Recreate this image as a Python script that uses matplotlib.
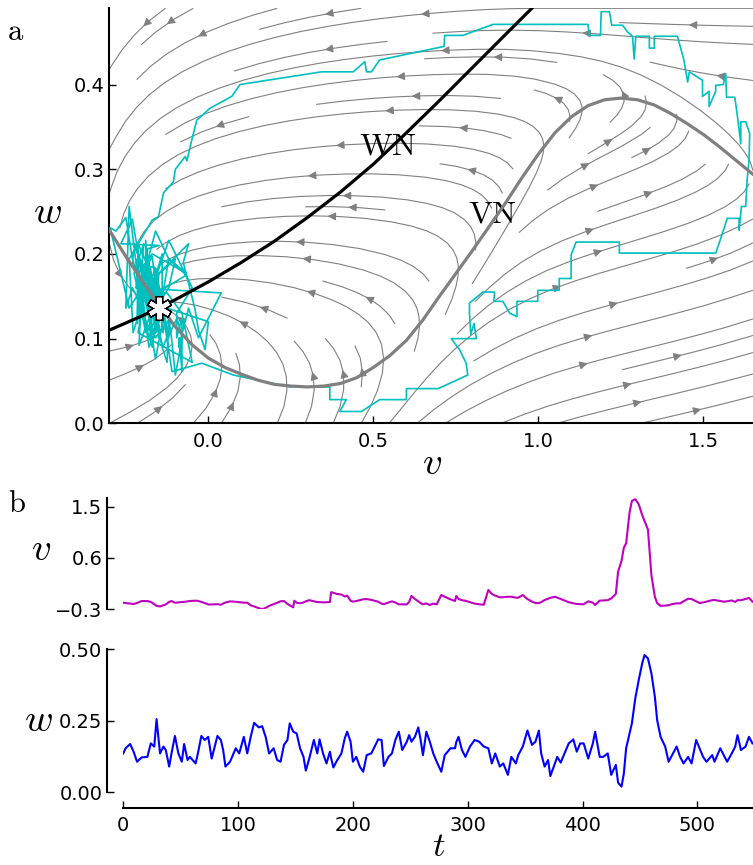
import numpy as np
import matplotlib
matplotlib.use("Agg")
import matplotlib.pyplot as plt

plt.rcParams['mathtext.fontset'] = 'cm'
plt.rcParams['font.family'] = 'DejaVu Sans'

# nullclines
vn_v = [-0.30, -0.25, -0.20, -0.15, -0.10, -0.05, 0.00, 0.05, 0.10, 0.15, 0.20, 0.25, 0.30, 0.35,
        0.40, 0.45, 0.50, 0.55, 0.60, 0.65, 0.70, 0.75, 0.80, 0.85, 0.90, 0.95, 1.00, 1.05, 1.10,
        1.15, 1.20, 1.25, 1.30, 1.35, 1.40, 1.45, 1.50, 1.55, 1.60, 1.65]
vn_w = [0.228, 0.197, 0.168, 0.140, 0.114, 0.093, 0.077, 0.066, 0.058, 0.051, 0.046, 0.044, 0.043, 0.044,
        0.047, 0.054, 0.066, 0.080, 0.098, 0.122, 0.150, 0.177, 0.204, 0.232, 0.260, 0.290, 0.318, 0.343,
        0.362, 0.375, 0.382, 0.384, 0.382, 0.376, 0.366, 0.354, 0.341, 0.326, 0.310, 0.294]
wn_v = [-0.30, -0.20, -0.10, 0.00, 0.10, 0.20, 0.30, 0.40, 0.50, 0.60, 0.70, 0.80, 0.90, 0.98]
wn_w = [0.110, 0.127, 0.146, 0.167, 0.190, 0.215, 0.243, 0.273, 0.306, 0.343, 0.381, 0.420, 0.459, 0.490]

# model constants for the flow field
v_rev = -0.62
eps = 0.136
fp_v, fp_w = -0.151, 0.136

# time series (panel b)
t = [0, 2, 6, 9, 12, 16, 21, 24, 27, 29, 32, 35, 37, 40, 42, 45, 48, 51, 53, 56, 58, 63, 65, 68, 71,
     74, 77, 82, 85, 87, 89, 93, 98, 101, 105, 108, 111, 114, 118, 121, 124, 127, 131, 134, 137, 140,
     143, 145, 148, 149, 151, 154, 157, 159, 162, 166, 169, 171, 174, 177, 180, 181, 183, 186, 190,
     193, 195, 198, 200, 203, 206, 209, 212, 216, 219, 222, 225, 227, 231, 234, 237, 240, 243, 247,
     249, 251, 254, 257, 259, 261, 264, 267, 270, 273, 277, 280, 285, 289, 290, 292, 295, 298, 302,
     306, 310, 314, 318, 321, 324, 328, 331, 335, 338, 342, 344, 348, 352, 356, 359, 362, 364, 367,
     370, 372, 376, 378, 381, 385, 388, 392, 395, 398, 401, 405, 409, 411, 415, 418, 422, 425, 429,
     431, 434, 436, 438, 441, 443, 446, 449, 452, 454, 457, 460, 463, 465, 468, 472, 475, 478, 482,
     485, 488, 492, 495, 499, 502, 505, 508, 513, 515, 520, 523, 526, 530, 533, 535, 538, 542, 545, 548]
v = [-0.184, -0.190, -0.200, -0.207, -0.190, -0.155, -0.155, -0.170, -0.210, -0.240, -0.250, -0.230,
     -0.215, -0.170, -0.155, -0.184, -0.180, -0.172, -0.170, -0.160, -0.155, -0.149, -0.152, -0.170,
     -0.190, -0.215, -0.215, -0.210, -0.220, -0.200, -0.180, -0.161, -0.168, -0.175, -0.184, -0.184,
     -0.230, -0.250, -0.280, -0.298, -0.275, -0.240, -0.210, -0.185, -0.160, -0.155, -0.205, -0.230,
     -0.265, -0.149, -0.184, -0.195, -0.180, -0.160, -0.140, -0.160, -0.172, -0.175, -0.178, -0.176,
     -0.172, 0.000, -0.010, -0.030, -0.041, -0.076, -0.060, -0.150, -0.165, -0.155, -0.140, -0.125,
     -0.120, -0.135, -0.150, -0.166, -0.200, -0.210, -0.180, -0.161, -0.180, -0.213, -0.213, -0.213,
     -0.170, -0.066, -0.120, -0.160, -0.190, -0.213, -0.196, -0.225, -0.200, -0.213, -0.049, -0.080,
     -0.125, -0.155, -0.067, -0.120, -0.140, -0.150, -0.175, -0.200, -0.212, -0.220, 0.039, -0.030,
     -0.060, -0.090, -0.088, -0.080, -0.080, -0.096, -0.096, -0.049, -0.120, -0.165, -0.190, -0.190,
     -0.175, -0.137, -0.115, -0.100, -0.079, -0.095, -0.120, -0.150, -0.175, -0.195, -0.207, -0.210,
     -0.212, -0.160, -0.184, -0.225, -0.148, -0.145, -0.140, -0.110, -0.030, 0.360, 0.550, 0.780,
     0.857, 1.400, 1.600, 1.630, 1.540, 1.350, 1.250, 1.100, 0.300, -0.080, -0.190, -0.240, -0.235,
     -0.228, -0.210, -0.196, -0.196, -0.160, -0.115, -0.120, -0.160, -0.190, -0.180, -0.165, -0.140,
     -0.137, -0.155, -0.166, -0.160, -0.145, -0.170, -0.140, -0.140, -0.120, -0.100, -0.166]
w = [0.136, 0.154, 0.169, 0.142, 0.107, 0.122, 0.124, 0.171, 0.160, 0.256, 0.136, 0.160, 0.148, 0.090,
     0.136, 0.197, 0.136, 0.107, 0.169, 0.113, 0.124, 0.101, 0.136, 0.197, 0.183, 0.194, 0.118, 0.197,
     0.183, 0.148, 0.090, 0.107, 0.154, 0.136, 0.194, 0.136, 0.194, 0.243, 0.227, 0.231, 0.194, 0.136,
     0.154, 0.113, 0.107, 0.166, 0.183, 0.241, 0.212, 0.210, 0.206, 0.154, 0.124, 0.076, 0.118, 0.183,
     0.136, 0.185, 0.136, 0.101, 0.142, 0.120, 0.087, 0.110, 0.136, 0.190, 0.212, 0.177, 0.107, 0.124,
     0.090, 0.072, 0.130, 0.136, 0.160, 0.185, 0.183, 0.092, 0.124, 0.136, 0.183, 0.212, 0.148, 0.177,
     0.200, 0.177, 0.194, 0.227, 0.183, 0.130, 0.212, 0.177, 0.136, 0.107, 0.072, 0.130, 0.154, 0.154,
     0.175, 0.194, 0.148, 0.124, 0.160, 0.183, 0.177, 0.160, 0.154, 0.101, 0.136, 0.090, 0.101, 0.061,
     0.124, 0.101, 0.130, 0.160, 0.216, 0.166, 0.177, 0.216, 0.136, 0.090, 0.113, 0.057, 0.101, 0.124,
     0.104, 0.142, 0.171, 0.185, 0.142, 0.171, 0.171, 0.118, 0.171, 0.212, 0.124, 0.124, 0.136, 0.061,
     0.096, 0.034, 0.020, 0.066, 0.154, 0.206, 0.241, 0.329, 0.393, 0.451, 0.480, 0.468, 0.416, 0.335,
     0.253, 0.194, 0.160, 0.107, 0.130, 0.160, 0.124, 0.101, 0.124, 0.101, 0.183, 0.154, 0.124, 0.107,
     0.130, 0.107, 0.154, 0.130, 0.107, 0.136, 0.160, 0.200, 0.148, 0.160, 0.194, 0.171]

# excursion of the trajectory drawn in panel a
exc_v = [-0.020, 0.076, 0.247, 0.368, 0.368, 0.418, 0.398, 0.464, 0.519, 0.600, 0.600, 0.696, 0.786,
         0.781, 0.761, 0.736, 0.812, 0.805, 0.795, 0.791, 0.791, 0.832, 0.867, 0.865, 0.892, 0.913,
         0.935, 0.935, 0.998, 0.998, 1.063, 1.063, 1.099, 1.099, 1.114, 1.245, 1.245, 1.537, 1.552,
         1.572, 1.608, 1.608, 1.615, 1.628, 1.632, 1.638, 1.640, 1.628, 1.613, 1.613, 1.605, 1.595,
         1.570, 1.567, 1.560, 1.537, 1.537, 1.517, 1.517, 1.497, 1.497, 1.457, 1.452, 1.440, 1.431,
         1.421, 1.351, 1.351, 1.336, 1.336, 1.295, 1.290, 1.285, 1.270, 1.255, 1.222, 1.215, 1.190,
         1.188, 1.154, 1.150, 0.862, 0.771, 0.716, 0.714, 0.519, 0.494, 0.479, 0.474, 0.439, 0.343,
         0.096, 0.071, 0.005, -0.035, -0.050, -0.065, -0.070, -0.100, -0.106, -0.136, -0.151, -0.170]
exc_w = [0.071, 0.057, 0.043, 0.043, 0.028, 0.028, 0.014, 0.014, 0.028, 0.028, 0.041, 0.041, 0.057,
         0.071, 0.087, 0.100, 0.100, 0.118, 0.105, 0.130, 0.142, 0.155, 0.155, 0.144, 0.144, 0.130,
         0.126, 0.144, 0.144, 0.157, 0.157, 0.171, 0.171, 0.199, 0.214, 0.214, 0.201, 0.201, 0.218,
         0.242, 0.242, 0.228, 0.256, 0.256, 0.287, 0.311, 0.342, 0.356, 0.356, 0.330, 0.356, 0.385,
         0.385, 0.413, 0.400, 0.399, 0.392, 0.374, 0.392, 0.386, 0.405, 0.415, 0.403, 0.430, 0.443,
         0.457, 0.457, 0.443, 0.443, 0.457, 0.457, 0.430, 0.457, 0.462, 0.470, 0.470, 0.486, 0.486,
         0.458, 0.458, 0.471, 0.471, 0.458, 0.458, 0.445, 0.429, 0.415, 0.415, 0.427, 0.415, 0.415,
         0.400, 0.386, 0.372, 0.358, 0.335, 0.310, 0.315, 0.300, 0.285, 0.272, 0.244, 0.240]

t_arr, v_arr, w_arr = np.array(t), np.array(v), np.array(w)
pre = t_arr <= 425
post = t_arr >= 468
traj_v = np.concatenate([v_arr[pre], exc_v, v_arr[post]])
traj_w = np.concatenate([w_arr[pre], exc_w, w_arr[post]])

fig = plt.figure(figsize=(7.53, 8.65), dpi=100)

# ---- panel a: phase plane
ax = fig.add_axes([0.1452, 0.5106, 0.8548, 0.4798])
V, W = np.meshgrid(np.linspace(-0.3, 1.65, 150), np.linspace(0, 0.49, 150))
dV = (V - v_rev) * (np.interp(V, vn_v, vn_w) - W)
dW = eps * (np.interp(V, wn_v, wn_w) - W)
ax.streamplot(V, W, dV, dW, density=0.8, color='0.5', linewidth=0.8, arrowsize=1.2)
ax.plot(traj_v, traj_w, color='c', lw=1.2, zorder=3)
ax.plot(vn_v, vn_w, color='gray', lw=2.3, zorder=4)
ax.plot(wn_v, wn_w, color='k', lw=2.3, zorder=4)
# fixed point: white asterisk with black outline
ax.plot(fp_v, fp_w, marker=(6, 2, 0), ms=18, mec='k', mew=5.5, zorder=6)
ax.plot(fp_v, fp_w, marker=(6, 2, 0), ms=15.5, mec='white', mew=3, zorder=7)
ax.text(0.543, 0.327, r'$\mathrm{WN}$', fontsize=23, ha='center', va='center')
ax.text(0.861, 0.247, r'$\mathrm{VN}$', fontsize=23, ha='center', va='center')
ax.set_xlim(-0.3, 1.65)
ax.set_ylim(0, 0.49)
ax.set_xticks([0.0, 0.5, 1.0, 1.5])
ax.set_yticks([0.0, 0.1, 0.2, 0.3, 0.4])
for s in ['top', 'right']:
    ax.spines[s].set_visible(False)
for s in ['left', 'bottom']:
    ax.spines[s].set_linewidth(1.5)
ax.tick_params(direction='in', length=5, width=1, labelsize=14)
ax.tick_params(axis='x', pad=6)

# ---- panel b: time series
axv = fig.add_axes([0.1637, 0.2956, 0.8363, 0.1286])
axv.plot(t, v, color='m', lw=1.5)
axv.set_xlim(0, 548.5)
axv.set_ylim(-0.3, 1.65)
axv.set_yticks([-0.3, 0.6, 1.5])
axv.set_yticklabels(['\u22120.3', '0.6', '1.5'])
axv.set_xticks([])
for s in ['top', 'right', 'bottom']:
    axv.spines[s].set_visible(False)
axv.spines['left'].set_position(('outward', 11.5))
axv.spines['left'].set_linewidth(1.5)
axv.tick_params(direction='in', length=5, width=1, labelsize=14)

axw = fig.add_axes([0.1637, 0.0840, 0.8363, 0.1654])
axw.plot(t, w, color='b', lw=1.5)
axw.set_xlim(0, 548.5)
axw.set_ylim(0, 0.5)
axw.set_yticks([0.0, 0.25, 0.5])
axw.set_yticklabels(['0.00', '0.25', '0.50'])
axw.set_xticks([0, 100, 200, 300, 400, 500])
for s in ['top', 'right']:
    axw.spines[s].set_visible(False)
axw.spines['left'].set_position(('outward', 11.5))
axw.spines['bottom'].set_position(('outward', 11))
for s in ['left', 'bottom']:
    axw.spines[s].set_linewidth(1.5)
axw.tick_params(direction='in', length=5, width=1, labelsize=14)
axw.tick_params(axis='x', pad=6)

# axis and panel labels
W_, H_ = 753.0, 865.0
def flabel(x, y, s, size):
    fig.text(x / W_, 1 - y / H_, s, fontsize=size, ha='center', va='center')

flabel(47, 212, r'$w$', 28)
flabel(432, 463, r'$v$', 28)
flabel(41, 549, r'$v$', 28)
flabel(38, 720, r'$w$', 28)
flabel(439, 846, r'$t$', 25)
flabel(16, 32, r'$\mathrm{a}$', 22)
flabel(17, 503, r'$\mathrm{b}$', 22)

fig.savefig('out.png', dpi=100)
